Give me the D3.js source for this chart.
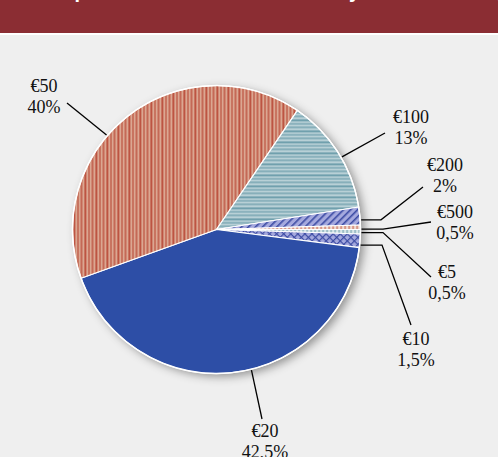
<!DOCTYPE html>
<html>
<head>
<meta charset="utf-8">
<script src="https://cdn.jsdelivr.net/npm/d3@7"></script>
<style>
  body { margin: 0; background: #efefef; }
  svg { display: block; }
</style>
</head>
<body>
<div id="graph"></div>
<script>
// banknote denominations, share of value in circulation (%)
var categories = ['€5', '€10', '€20', '€50', '€100', '€200', '€500']
var shares = [0.5, 1.5, 42.5, 40, 13, 2, 0.5]
var title = 'Composition of euro banknotes by denomination, 2015'

// fill per slice (pattern ids or solid colour)
var fills = ['url(#p5)', 'url(#p10)', '#2d4ea6', 'url(#p50)', 'url(#p100)', 'url(#p200)', 'url(#p500)']

// where each leader line leaves the slice (t = fraction of the slice's angle),
// optional horizontal elbow x, line end and label anchor
var labelLayout = {
  '€5':   {t: .67, elbow: 383, end: [431, 277], text: [447, 278]},
  '€10':  {t: .81, elbow: 382, end: [411, 325], text: [416, 345]},
  '€20':  {t: .45, end: [262, 419], text: [265, 437]},
  '€50':  {t: .42, end: [67, 103], text: [44, 92]},
  '€100': {t: .55, end: [385, 133], text: [411, 123]},
  '€200': {t: .72, elbow: 381, end: [423, 187], text: [445, 171]},
  '€500': {t: .9,  elbow: 383, end: [431, 222], text: [455, 218]}
}

var width = 498, height = 457
var cx = 216.5, cy = 229.5, r = 144

var pctFmt = d3.formatLocale({decimal: ',', thousands: '.', grouping: [3], currency: ['€', '']}).format('.1~f')

var svg = d3.select('#graph').append('svg')
  .attr('width', width).attr('height', height)

svg.append('rect').attr('width', width).attr('height', height).attr('fill', '#efefef')

// header band (title runs off the top, as in the source)
svg.append('rect').attr('width', width).attr('height', 33).attr('fill', '#8b2d33')
svg.append('rect').attr('y', 33).attr('width', width).attr('height', 2).attr('fill', '#fff')
svg.append('text')
  .attr('x', 30).attr('y', -2)
  .attr('fill', '#fff')
  .style('font', 'bold 20px "Liberation Sans", Arial, sans-serif')
  .text(title)

var defs = svg.append('defs')

// shadow
var f = defs.append('filter').attr('id', 'shadow')
  .attr('x', '-20%').attr('y', '-20%').attr('width', '140%').attr('height', '140%')
f.append('feDropShadow')
  .attr('dx', 4).attr('dy', 3).attr('stdDeviation', 5)
  .attr('flood-color', '#000').attr('flood-opacity', .4)

// €50 – vertical red stripes
var p50 = defs.append('pattern').attr('id', 'p50')
  .attr('patternUnits', 'userSpaceOnUse').attr('width', 11).attr('height', 10)
p50.append('rect').attr('width', 11).attr('height', 10).attr('fill', '#dba792')
;[[0, 1.6], [4, 1], [7.4, 1.2]].forEach(function(d){
  p50.append('rect').attr('x', d[0]).attr('width', d[1]).attr('height', 10).attr('fill', '#b5402f')
})

// €100 – horizontal teal lines
var p100 = defs.append('pattern').attr('id', 'p100')
  .attr('patternUnits', 'userSpaceOnUse').attr('width', 10).attr('height', 11)
p100.append('rect').attr('width', 10).attr('height', 11).attr('fill', '#b8d0d6')
;[[0, 1.6], [3.8, 1], [7.3, 1.1]].forEach(function(d){
  p100.append('rect').attr('y', d[0]).attr('height', d[1]).attr('width', 10).attr('fill', '#5f94a3')
})

// €200 – diagonal hatch
var p200 = defs.append('pattern').attr('id', 'p200')
  .attr('patternUnits', 'userSpaceOnUse').attr('width', 5).attr('height', 5)
  .attr('patternTransform', 'rotate(45)')
p200.append('rect').attr('width', 5).attr('height', 5).attr('fill', '#a5a9de')
p200.append('rect').attr('width', 1.6).attr('height', 5).attr('fill', '#3d4ca4')

// €10 – cross hatch
var p10 = defs.append('pattern').attr('id', 'p10')
  .attr('patternUnits', 'userSpaceOnUse').attr('width', 5).attr('height', 5)
  .attr('patternTransform', 'rotate(45)')
p10.append('rect').attr('width', 5).attr('height', 5).attr('fill', '#a5a9de')
p10.append('rect').attr('width', 1.2).attr('height', 5).attr('fill', '#3d4ca4')
p10.append('rect').attr('width', 5).attr('height', 1.2).attr('fill', '#3d4ca4')

// €500 – pale with red dashes
var p500 = defs.append('pattern').attr('id', 'p500')
  .attr('patternUnits', 'userSpaceOnUse').attr('width', 4).attr('height', 4)
p500.append('rect').attr('width', 4).attr('height', 4).attr('fill', '#efdcd4')
p500.append('rect').attr('width', 1.2).attr('height', 4).attr('fill', '#c96a55')

// €5 – pale teal with white breaks
var p5 = defs.append('pattern').attr('id', 'p5')
  .attr('patternUnits', 'userSpaceOnUse').attr('width', 4).attr('height', 4)
p5.append('rect').attr('width', 4).attr('height', 4).attr('fill', '#9fc0c9')
p5.append('rect').attr('width', 1.2).attr('height', 4).attr('fill', '#fff')

var pie = d3.pie()
  .sort(null)
  .startAngle(Math.PI / 2)
  .endAngle(Math.PI / 2 + 2 * Math.PI)
  .value(function(d){ return d })

var arcs = pie(shares)
var arc = d3.arc().innerRadius(0).outerRadius(r)

var g = svg.append('g').attr('transform', 'translate(' + cx + ',' + cy + ')')

g.append('circle').attr('r', r).attr('fill', '#fff').attr('filter', 'url(#shadow)')

g.selectAll('path.slice').data(arcs).enter().append('path')
  .attr('class', 'slice')
  .attr('d', arc)
  .attr('fill', function(d, i){ return fills[i] })
  .attr('stroke', '#fff')
  .attr('stroke-width', 1.2)
  .attr('stroke-linejoin', 'round')

g.append('circle').attr('r', r).attr('fill', 'none').attr('stroke', '#fff').attr('stroke-width', 1.5)

// leader lines and labels
var labels = svg.append('g')

arcs.forEach(function(a, i){
  var cat = categories[i]
  var L = labelLayout[cat]
  var ang = a.startAngle + L.t * (a.endAngle - a.startAngle)
  var sx = cx + (r + 1) * Math.sin(ang)
  var sy = cy - (r + 1) * Math.cos(ang)
  var pts = [[sx, sy]]
  if (L.elbow) pts.push([L.elbow, sy])
  pts.push(L.end)

  labels.append('path')
    .attr('d', d3.line()(pts))
    .attr('fill', 'none')
    .attr('stroke', '#000')
    .attr('stroke-width', 1.3)

  var t = labels.append('text')
    .attr('text-anchor', 'middle')
    .attr('fill', '#111')
    .style('font', '18px "Liberation Serif", "Times New Roman", serif')
  t.append('tspan').attr('x', L.text[0]).attr('y', L.text[1]).text(cat)
  t.append('tspan').attr('x', L.text[0]).attr('y', L.text[1] + 21).text(pctFmt(shares[i]) + '%')
})
</script>
</body>
</html>
